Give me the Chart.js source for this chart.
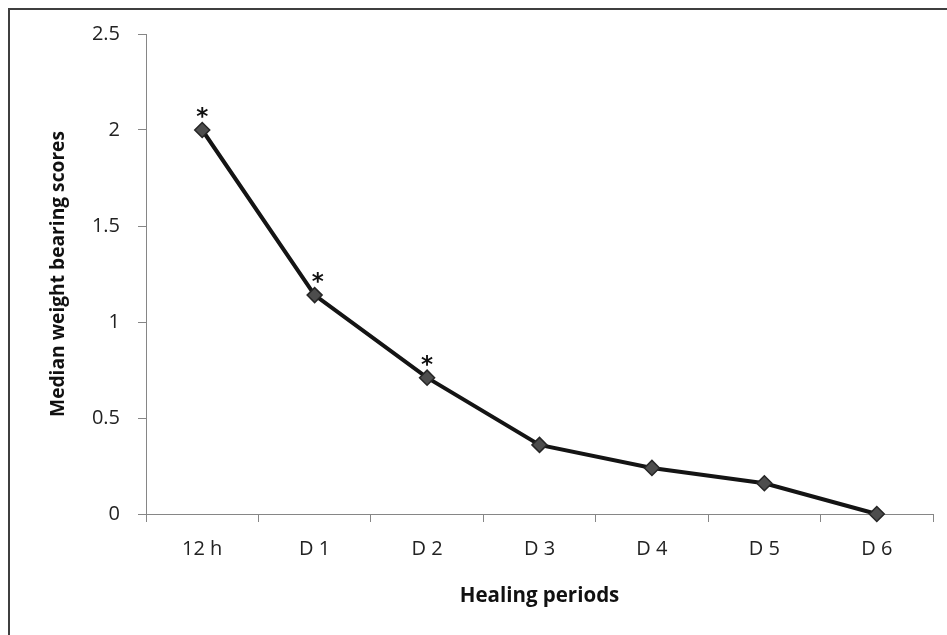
<!DOCTYPE html>
<html>
<head>
<meta charset="utf-8">
<script src="https://cdn.jsdelivr.net/npm/chart.js@4/dist/chart.umd.min.js"></script>
<style>
  html, body { margin: 0; padding: 0; background: #fff; overflow: hidden; }
  #c { display: block; }
</style>
</head>
<body>
<canvas id="c" width="947" height="635"></canvas>
<script>
const categories = ['12 h', 'D 1', 'D 2', 'D 3', 'D 4', 'D 5', 'D 6'];
const medianScores = [2.0, 1.14, 0.71, 0.36, 0.24, 0.16, 0];
const significanceMarks = ['*', '*', '*', '', '', '', ''];
const yTickMin = 0;
const yTickMax = 2.5;
const yTickStep = 0.5;
const xTitle = 'Healing periods';
const yTitle = 'Median weight bearing scores';

const framePlugin = {
  id: 'frame',
  beforeDraw(chart) {
    const ctx = chart.ctx;
    ctx.save();
    ctx.strokeStyle = '#3f3f3f';
    ctx.lineWidth = 2;
    ctx.beginPath();
    ctx.moveTo(9, chart.height + 5);
    ctx.lineTo(9, 9);
    ctx.lineTo(chart.width + 5, 9);
    ctx.stroke();
    ctx.restore();
  }
};

const marksPlugin = {
  id: 'marks',
  afterDatasetsDraw(chart) {
    const ctx = chart.ctx;
    const meta = chart.getDatasetMeta(0);
    ctx.save();
    ctx.font = 'bold 23px "DejaVu Sans"';
    ctx.fillStyle = '#111';
    ctx.textAlign = 'center';
    ctx.textBaseline = 'alphabetic';
    significanceMarks.forEach((m, i) => {
      if (!m) return;
      const pt = meta.data[i];
      ctx.fillText(m, pt.x + (i === 1 ? 3 : 0), pt.y - 6);
    });
    ctx.restore();
  }
};

new Chart(document.getElementById('c'), {
  type: 'line',
  data: {
    labels: categories,
    datasets: [{
      data: medianScores,
      borderColor: '#141414',
      borderWidth: 4,
      tension: 0,
      pointStyle: 'rectRot',
      pointRadius: 7.5,
      pointHoverRadius: 7.5,
      pointBackgroundColor: '#4d4d4d',
      pointBorderColor: '#262626',
      pointBorderWidth: 1.5,
      clip: false
    }]
  },
  options: {
    responsive: false,
    animation: false,
    devicePixelRatio: 1,
    layout: { padding: { top: 34, right: 14, left: 0, bottom: 0 } },
    plugins: {
      legend: { display: false },
      tooltip: { enabled: false }
    },
    scales: {
      x: {
        type: 'category',
        offset: true,
        afterFit(scale) { scale.height = 121; },
        grid: {
          drawOnChartArea: false,
          drawTicks: true,
          tickLength: 8,
          color: '#868686',
          offset: true
        },
        border: { color: '#868686', width: 1 },
        ticks: {
          padding: 15,
          color: '#222',
          font: { family: '"Open Sans"', size: 20 }
        },
        title: {
          display: true,
          text: xTitle,
          color: '#111',
          font: { family: '"Open Sans"', size: 20.5, weight: 'bold' },
          padding: { top: 0, bottom: 27 }
        }
      },
      y: {
        min: yTickMin,
        max: yTickMax,
        afterFit(scale) { scale.width = 146; },
        grid: {
          drawOnChartArea: false,
          drawTicks: true,
          tickLength: 8,
          color: '#868686'
        },
        border: { color: '#868686', width: 1 },
        ticks: {
          stepSize: yTickStep,
          padding: 18,
          color: '#222',
          font: { family: '"Open Sans"', size: 20 },
          callback: (v) => String(Math.round(v * 100) / 100)
        },
        title: {
          display: true,
          text: yTitle,
          color: '#111',
          font: { family: '"Open Sans"', size: 19.2, weight: 'bold' },
          padding: { top: 47, bottom: 0 }
        }
      }
    }
  },
  plugins: [framePlugin, marksPlugin]
});
</script>
</body>
</html>
